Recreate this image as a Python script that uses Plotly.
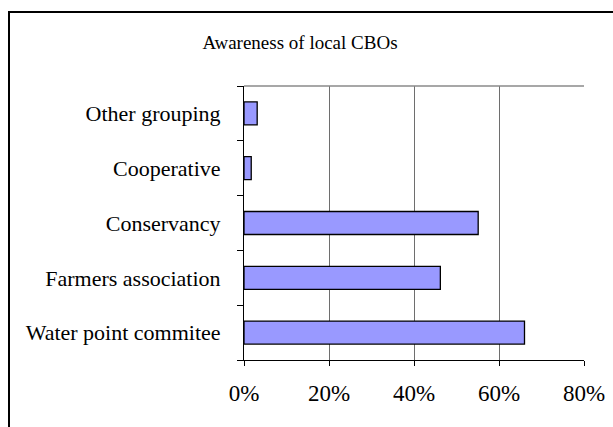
import plotly.graph_objects as go

# Community-based organisations (bottom to top) and share of respondents aware of each
categories = ["Water point commitee", "Farmers association", "Conservancy",
              "Cooperative", "Other grouping"]
awareness = [0.66, 0.462, 0.551, 0.017, 0.031]

x_ticks = [0, 0.2, 0.4, 0.6, 0.8]
x_tick_labels = ["0%", "20%", "40%", "60%", "80%"]

W, H = 613, 427
L, R, T, B = 244, 29, 86, 67
pw, ph = W - L - R, H - T - B

fig = go.Figure(go.Bar(
    y=categories,
    x=awareness,
    orientation="h",
    marker=dict(color="#9999FF", line=dict(color="black", width=1.3)),
    width=0.42,
))

font_family = "Liberation Serif, Times New Roman, serif"

fig.update_layout(
    width=W, height=H,
    margin=dict(l=L, r=R, t=T, b=B, pad=0, autoexpand=False),
    paper_bgcolor="white",
    plot_bgcolor="white",
    showlegend=False,
    font=dict(family=font_family, size=22, color="black"),
    title=dict(
        text="Awareness of local CBOs",
        x=300 / W, xanchor="center",
        y=1 - 42 / H, yanchor="middle",
        font=dict(family=font_family, size=19, color="black"),
    ),
    xaxis=dict(
        range=[0, 0.8],
        tickvals=x_ticks,
        ticktext=x_tick_labels,
        showgrid=True,
        gridcolor="#6e6e6e",
        gridwidth=1,
        zeroline=False,
        showline=True,
        linecolor="black",
        linewidth=1,
        ticks="outside",
        ticklen=5,
        tickcolor="black",
        ticklabelstandoff=7,
        tickfont=dict(size=23),
        automargin=False,
        fixedrange=True,
    ),
    yaxis=dict(
        categoryorder="array",
        categoryarray=categories,
        range=[-0.5, 4.5],
        showgrid=False,
        zeroline=False,
        showline=True,
        linecolor="black",
        linewidth=1,
        ticks="outside",
        tickson="boundaries",
        ticklen=6,
        tickcolor="black",
        ticklabelstandoff=18,
        tickfont=dict(size=22),
        automargin=False,
        fixedrange=True,
    ),
    shapes=[
        # gray frame line along the top of the plotting area
        dict(type="line", xref="x domain", yref="y domain",
             x0=0, x1=1, y0=1, y1=1,
             line=dict(color="#8a8a8a", width=1.5)),
        # outer chart border (runs off the right and bottom edges)
        dict(type="rect", xref="paper", yref="paper",
             x0=(9 - L) / pw, x1=(W + 20 - L) / pw,
             y0=-(B + 20) / ph, y1=1 + (T - 12) / ph,
             line=dict(color="black", width=2), layer="below"),
    ],
)

fig.write_html("out.html")
